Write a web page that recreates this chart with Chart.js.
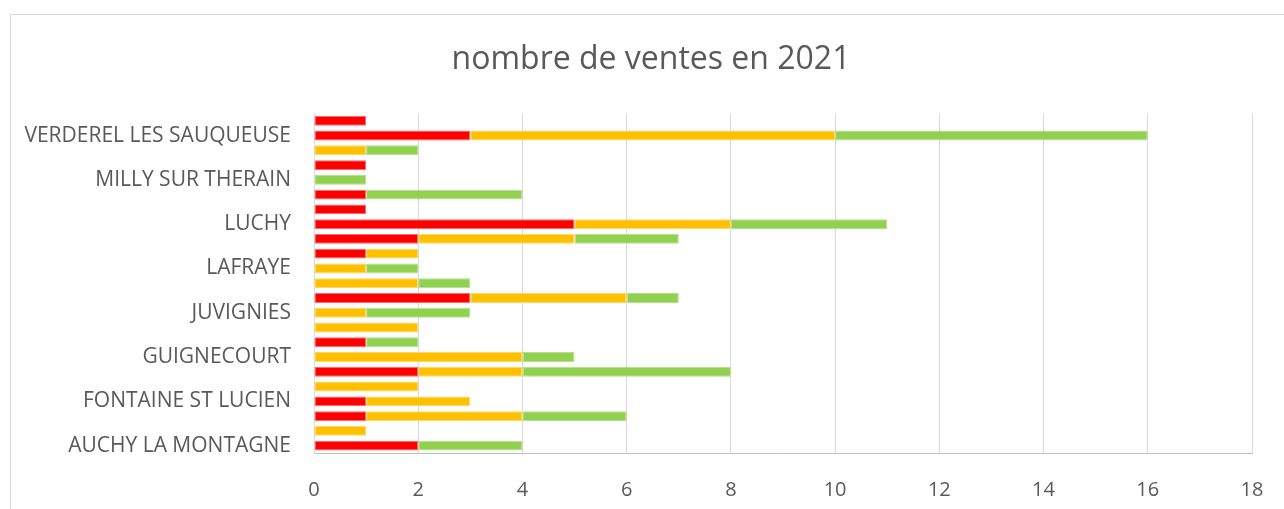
<!DOCTYPE html>
<html>
<head>
<meta charset="utf-8">
<script src="https://cdn.jsdelivr.net/npm/chart.js@4.4.1/dist/chart.umd.min.js"></script>
<style>
    html, body { margin: 0; padding: 0; background: #fff; overflow: hidden; }
    #frame { position: absolute; left: 10px; top: 14px; width: 1290px; height: 510px;
             border-left: 1px solid #d9d9d9; border-top: 1px solid #d9d9d9; }
    #wrap { position: absolute; left: 0; top: 0; width: 1284px; height: 509px; }
</style>
</head>
<body>
<div id="frame"></div>
<div id="wrap"><canvas id="chart"></canvas></div>
<script>
// categories top to bottom; unlabeled rows are skipped in the original
const communes = [
    '', 'VERDEREL LES SAUQUEUSE', '',
    '', 'MILLY SUR THERAIN', '',
    '', 'LUCHY', '',
    '', 'LAFRAYE', '',
    '', 'JUVIGNIES', '',
    '', 'GUIGNECOURT', '',
    '', 'FONTAINE ST LUCIEN', '',
    '', 'AUCHY LA MONTAGNE'
];

const rouge  = [1, 3, 0, 1, 0, 1, 1, 5, 2, 1, 0, 0, 3, 0, 0, 1, 0, 2, 0, 1, 1, 0, 2];
const orange = [0, 7, 1, 0, 0, 0, 0, 3, 3, 1, 1, 2, 3, 1, 2, 0, 4, 2, 2, 2, 3, 1, 0];
const vert   = [0, 6, 1, 0, 1, 3, 0, 3, 2, 0, 1, 1, 1, 2, 0, 1, 1, 4, 0, 0, 2, 0, 2];

const xTicks = [0, 2, 4, 6, 8, 10, 12, 14, 16, 18];

const textColor = '#595959';
const font = "'Open Sans', 'Noto Sans', sans-serif";

function serie(label, data, color, border) {
    return {
        label: label,
        data: data,
        backgroundColor: color,
        borderColor: border,
        borderWidth: 1,
        borderSkipped: false,
        categoryPercentage: 1,
        barPercentage: 0.67,
    };
}

// the title is centred on the whole frame, not on the padded area
const centreTitle = {
    id: 'centreTitle',
    afterLayout(chart) {
        const t = chart.titleBlock;
        if (t) {
            t.left += 25;
            t.right += 25;
        }
    },
};

new Chart(document.getElementById('chart'), {
    type: 'bar',
    data: {
        labels: communes,
        datasets: [
            serie('rouge', rouge, '#ff0000', '#ff6b6b'),
            serie('orange', orange, '#ffc000', '#ffd966'),
            serie('vert', vert, '#92d050', '#b4e08a'),
        ],
    },
    plugins: [centreTitle],
    options: {
        indexAxis: 'y',
        responsive: true,
        maintainAspectRatio: false,
        animation: false,
        layout: { padding: { top: 0, right: 32, bottom: 0, left: 0 } },
        plugins: {
            legend: { display: false },
            tooltip: { enabled: false },
            title: {
                display: true,
                text: 'nombre de ventes en 2021',
                color: textColor,
                font: { family: font, size: 32, weight: 'normal' },
                padding: { top: 41, bottom: 34 },
            },
        },
        scales: {
            x: {
                stacked: true,
                min: 0,
                max: 18,
                afterBuildTicks: (scale) => { scale.ticks = xTicks.map(v => ({ value: v })); },
                afterFit: (scale) => {
                    scale.height = 56;
                    scale.paddingLeft = 0;
                    scale.paddingRight = 0;
                },
                grid: { color: '#d9d9d9', drawTicks: false },
                border: { display: true, color: '#bfbfbf' },
                ticks: { color: textColor, font: { family: font, size: 20 }, padding: 25 },
            },
            y: {
                stacked: true,
                afterFit: (scale) => { scale.width = 314; },
                grid: { display: false, drawTicks: false },
                border: { display: true, color: '#d9d9d9' },
                ticks: { color: textColor, font: { family: font, size: 21 }, padding: 23, autoSkip: false },
            },
        },
    },
});
</script>
</body>
</html>
